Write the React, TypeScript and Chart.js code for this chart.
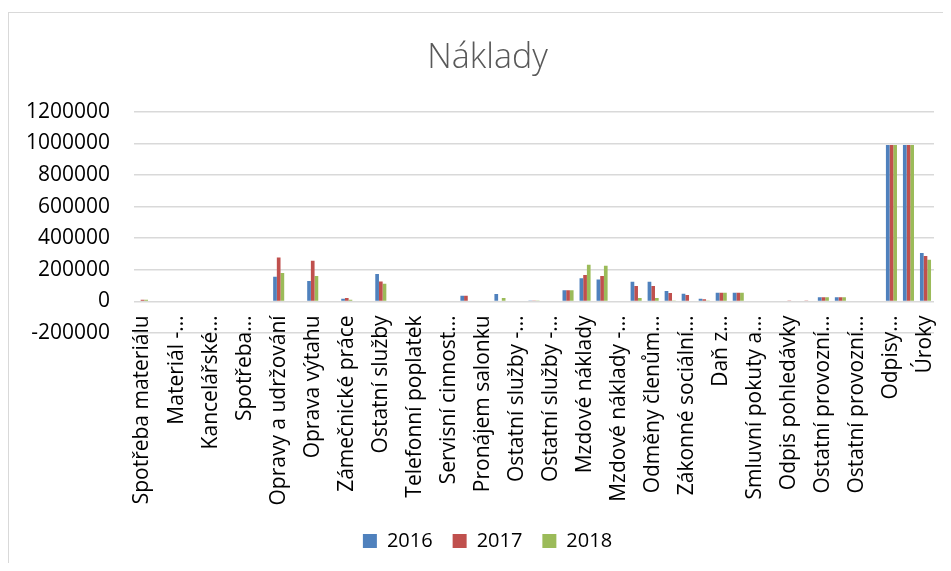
import { useEffect, useRef } from "react";
import { Chart, registerables } from "chart.js";

Chart.register(...registerables);

// 47 category slots; Excel only printed every second label, the others are unknown ("")
const categories = [
  "Spotřeba materiálu", "", "Materiál -…", "", "Kancelářské…", "", "Spotřeba…", "",
  "Opravy a udržování", "", "Oprava výtahu", "", "Zámečnické práce", "", "Ostatní služby", "",
  "Telefonní poplatek", "", "Servisní cinnost…", "", "Pronájem salonku", "", "Ostatní služby -…", "",
  "Ostatní služby -…", "", "Mzdové náklady", "", "Mzdové náklady -…", "", "Odměny členům…", "",
  "Zákonné sociální…", "", "Daň z…", "", "Smluvní pokuty a…", "", "Odpis pohledávky", "",
  "Ostatní provozní…", "", "Ostatní provozní…", "", "Odpisy…", "", "Úroky",
];

const seriesNames = ["2016", "2017", "2018"];
const seriesColors = ["#4F81BD", "#C0504D", "#9BBB59"];

const values2016 = [
  0, 0, 0, 0, 0, 0, 0, 0,
  156000, 0, 129000, 0, 17000, 0, 173000, 0,
  0, 0, 0, 36000, 0, 47000, 0, 5000,
  0, 70000, 146000, 139000, 0, 125000, 125000, 66000,
  49000, 17000, 55000, 55000, 0, 0, 0, 0,
  27000, 27000, 0, 0, 990000, 990000, 307000,
];
const values2017 = [
  11000, 0, 0, 0, 0, 0, 0, 0,
  278000, 0, 257000, 0, 21000, 0, 126000, 0,
  0, 0, 0, 36000, 0, 0, 0, 5000,
  0, 70000, 167000, 160000, 0, 98000, 98000, 53000,
  40000, 13000, 55000, 55000, 0, 0, 5000, 5000,
  27000, 27000, 0, 0, 990000, 990000, 288000,
];
const values2018 = [
  10000, 0, 0, 0, 0, 0, 0, 0,
  179000, 0, 160000, 0, 11000, 4000, 112000, 0,
  0, 0, 0, 0, 0, 21000, 0, 5000,
  0, 70000, 232000, 225000, 0, 22000, 22000, 5000,
  0, 2000, 55000, 55000, 0, 0, 0, 0,
  27000, 27000, 0, 0, 990000, 990000, 263000,
];

const yMin = -200000;
const yMax = 1200000;
const yStep = 200000;

const FONT = "'Open Sans', sans-serif";

// let the y tick labels extend into the left padding instead of being clipped
const unclipY = {
  id: "unclipY",
  afterLayout(chart: any) {
    chart.scales.y.left = 0;
  },
};

export default function App() {
  const ref = useRef<HTMLCanvasElement>(null);

  useEffect(() => {
    const seriesValues = [values2016, values2017, values2018];
    const chart = new Chart(ref.current!, {
      type: "bar",
      data: {
        labels: categories,
        datasets: seriesNames.map((name, i) => ({
          label: name,
          data: seriesValues[i],
          backgroundColor: seriesColors[i],
          borderWidth: 0,
          categoryPercentage: 0.65,
          barPercentage: 1,
          xAxisID: "x",
          yAxisID: "y",
        })),
      },
      options: {
        animation: false,
        responsive: false,
        layout: { padding: { left: 33, right: 9, top: 0, bottom: 2 } },
        plugins: {
          title: {
            display: true,
            text: "Náklady",
            color: "#595959",
            font: { family: FONT, size: 34, weight: "300" },
            padding: { top: 30, bottom: 33 },
          },
          legend: {
            position: "bottom",
            labels: {
              boxWidth: 14,
              boxHeight: 14,
              padding: 20,
              color: "#000",
              font: { family: FONT, size: 20 },
            },
          },
          tooltip: { enabled: false },
        },
        scales: {
          x: {
            type: "category",
            position: { y: 0 },
            grid: { display: false },
            border: { display: false },
            ticks: {
              autoSkip: false,
              minRotation: 90,
              maxRotation: 90,
              padding: 6,
              color: "#000",
              font: { family: FONT, size: 21 },
            },
            afterFit: (s: any) => {
              s.paddingLeft = 0;
              s.paddingRight = 0;
            },
          },
          // empty axis that only reserves room for the category labels below the plot
          xSpace: {
            type: "linear",
            position: "bottom",
            grid: { display: false },
            border: { display: false },
            ticks: { display: false },
            afterFit: (s: any) => {
              s.height = 178;
              s.paddingLeft = 0;
              s.paddingRight = 0;
            },
          },
          y: {
            min: yMin,
            max: yMax,
            border: { display: false },
            grid: { color: "#d9d9d9", lineWidth: 1.5, drawTicks: false },
            ticks: {
              stepSize: yStep,
              padding: 24,
              color: "#000",
              font: { family: FONT, size: 21 },
              callback: (v: any) => String(v),
            },
            afterFit: (s: any) => {
              s.width = 93;
            },
          },
        },
      } as any,
      plugins: [unclipY],
    });
    return () => chart.destroy();
  }, []);

  return (
    <div style={{ position: "relative", width: 935, height: 555 }}>
      <div
        style={{
          position: "absolute",
          left: 0,
          top: 4,
          width: 935,
          height: 551,
          borderLeft: "1px solid #d9d9d9",
          borderTop: "1px solid #d9d9d9",
          boxSizing: "border-box",
        }}
      />
      <canvas ref={ref} width={935} height={555} style={{ position: "relative", display: "block" }} />
    </div>
  );
}
